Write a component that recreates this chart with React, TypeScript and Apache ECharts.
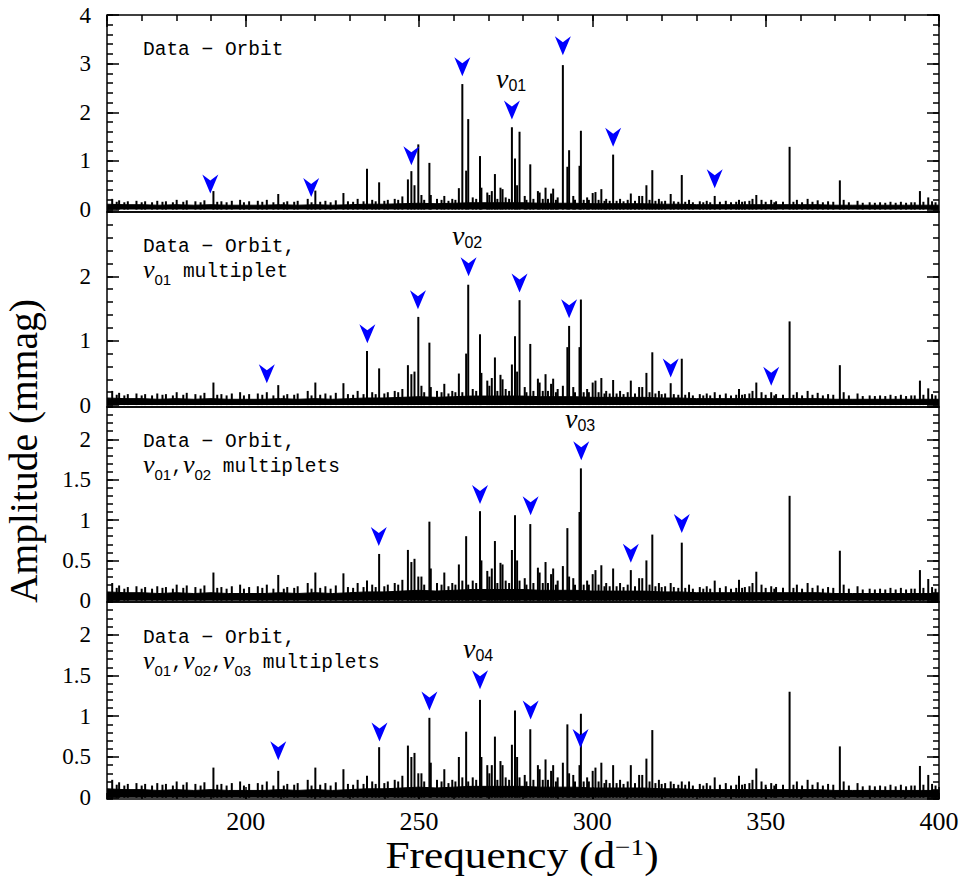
import React, { useEffect, useRef } from 'react';
import * as echarts from 'echarts';

// ---------------- data ----------------
// Main peaks: frequency (d^-1) and amplitude (mmag) in each of the four panels
const peakFreq = [
  190.7, 209.4, 220.1, 228.2, 235.0, 238.5, 245.2, 246.8, 247.8, 248.7,
  249.8, 253.0, 253.4, 257.3, 261.5, 262.5, 263.6, 264.2, 267.6, 268.0,
  269.7, 271.0, 271.9, 273.5, 274.1, 276.8, 277.7, 278.3, 279.0, 282.1,
  284.3, 286.5, 288.7, 291.5, 292.8, 293.3, 296.3, 296.7, 300.1, 300.9,
  302.6, 306.0, 311.1, 315.6, 317.3, 322.6, 325.8, 335.3, 342.3, 347.3,
  351.6, 356.9, 371.4, 394.5, 396.9,
];
const peakAmpPanel1 = [
  0.38, 0.32, 0.39, 0.34, 0.84, 0.56, 0.27, 0.62, 0.79, 0.50,
  1.34, 0.96, 0.30, 0.28, 0.44, 2.58, 0.80, 1.86, 1.10, 0.45,
  0.35, 0.38, 0.73, 0.45, 0.42, 1.69, 1.05, 0.50, 1.60, 0.93,
  0.38, 0.45, 0.43, 2.97, 0.88, 1.22, 0.90, 1.62, 0.34, 0.36,
  0.42, 1.13, 0.33, 0.50, 0.81, 0.32, 0.71, 0.28, 0.20, 0.30,
  0.20, 1.29, 0.60, 0.38, 0.25,
];
const peakAmpPanel2 = [
  0.35, 0.31, 0.35, 0.34, 0.84, 0.57, 0.25, 0.62, 0.48, 0.52,
  1.37, 0.97, 0.28, 0.33, 0.49, 0.20, 0.80, 1.87, 1.10, 0.50,
  0.38, 0.42, 0.74, 0.47, 0.40, 0.63, 1.07, 0.52, 1.63, 0.95,
  0.41, 0.48, 0.41, 0.30, 0.90, 1.23, 0.90, 1.64, 0.35, 0.38,
  0.42, 0.39, 0.38, 0.50, 0.82, 0.34, 0.72, 0.20, 0.25, 0.35,
  0.20, 1.30, 0.62, 0.38, 0.26,
];
const peakAmpPanel3 = [
  0.35, 0.32, 0.35, 0.34, 0.25, 0.58, 0.26, 0.63, 0.48, 0.52,
  0.30, 0.98, 0.40, 0.35, 0.45, 0.25, 0.80, 0.20, 1.11, 0.50,
  0.37, 0.40, 0.74, 0.47, 0.45, 0.63, 1.06, 0.50, 0.25, 0.95,
  0.41, 0.48, 0.40, 0.43, 0.90, 0.30, 1.10, 1.64, 0.33, 0.38,
  0.44, 0.40, 0.38, 0.50, 0.82, 0.22, 0.72, 0.25, 0.26, 0.36,
  0.18, 1.30, 0.62, 0.38, 0.27,
];
const peakAmpPanel4 = [
  0.37, 0.33, 0.37, 0.35, 0.27, 0.62, 0.27, 0.64, 0.50, 0.55,
  0.30, 0.98, 0.43, 0.35, 0.50, 0.25, 0.81, 0.20, 1.20, 0.50,
  0.40, 0.40, 0.75, 0.45, 0.40, 0.65, 1.07, 0.50, 0.25, 0.84,
  0.40, 0.47, 0.40, 0.43, 0.90, 0.30, 0.40, 1.03, 0.33, 0.37,
  0.43, 0.40, 0.40, 0.48, 0.83, 0.20, 0.20, 0.25, 0.27, 0.36,
  0.18, 1.30, 0.63, 0.39, 0.28,
];

// Small spikes sticking out of the noise (same in all panels)
const grassFreq = [
  161.5, 163.5, 166.0, 168.5, 171.0, 174.5, 177.0, 180.1, 183.0, 185.5,
  188.1, 193.0, 196.0, 198.4, 201.0, 203.5, 206.1, 212.0, 215.0, 217.9,
  223.0, 226.0, 232.3, 236.5, 241.0, 243.0, 250.7, 255.2, 259.6, 265.5,
  270.3, 275.0, 280.5, 284.8, 288.1, 290.0, 294.5, 298.5, 304.0, 308.0,
  313.5, 314.4, 319.2, 321.0, 327.9, 331.0, 333.0, 338.5, 344.0, 346.2,
  348.8, 353.0, 359.0, 362.1, 365.0, 368.0, 372.5, 376.5, 380.0, 383.0,
  386.0, 389.0, 392.0, 398.0,
];
const grassAmp = [
  0.22, 0.19, 0.17, 0.18, 0.17, 0.18, 0.17, 0.20, 0.19, 0.17,
  0.19, 0.17, 0.18, 0.20, 0.17, 0.18, 0.20, 0.17, 0.18, 0.22,
  0.18, 0.19, 0.22, 0.20, 0.20, 0.22, 0.30, 0.22, 0.22, 0.25,
  0.30, 0.25, 0.28, 0.35, 0.33, 0.25, 0.28, 0.25, 0.22, 0.22,
  0.28, 0.28, 0.22, 0.18, 0.20, 0.17, 0.18, 0.18, 0.17, 0.22,
  0.20, 0.17, 0.20, 0.22, 0.19, 0.17, 0.20, 0.18, 0.15, 0.15,
  0.16, 0.16, 0.15, 0.17,
];
// Finer, lower spikes of the noise band
const fineGrassFreq = [
  162.8, 165.0, 170.0, 173.0, 176.0, 179.0, 182.0, 187.0, 191.8, 194.5,
  199.5, 204.8, 208.0, 211.0, 214.0, 219.0, 221.5, 224.5, 229.5, 231.0,
  234.0, 237.5, 240.0, 244.0, 251.5, 256.5, 258.5, 260.5, 266.5, 272.6,
  276.0, 281.0, 283.0, 285.7, 287.2, 289.5, 295.0, 297.5, 299.0, 301.8,
  303.5, 305.0, 307.0, 309.0, 310.2, 312.3, 316.5, 318.2, 320.0, 323.5,
  324.8, 326.8, 329.0, 332.0, 334.0, 336.8, 340.0, 341.5, 343.2, 345.3,
  350.0, 352.5, 355.0, 358.0, 360.5, 363.5, 366.5, 369.5, 374.0, 378.0,
  381.5, 384.5, 387.5, 390.5, 393.0, 395.5, 399.0,
];
const fineGrassAmp = [
  0.16, 0.15, 0.15, 0.15, 0.16, 0.15, 0.16, 0.15, 0.16, 0.15,
  0.15, 0.16, 0.15, 0.15, 0.16, 0.15, 0.16, 0.15, 0.17, 0.16,
  0.17, 0.17, 0.18, 0.20, 0.20, 0.20, 0.18, 0.20, 0.22, 0.22,
  0.22, 0.20, 0.22, 0.22, 0.22, 0.20, 0.20, 0.20, 0.20, 0.20,
  0.18, 0.18, 0.18, 0.17, 0.20, 0.18, 0.20, 0.18, 0.17, 0.17,
  0.16, 0.16, 0.15, 0.15, 0.15, 0.16, 0.15, 0.16, 0.16, 0.18,
  0.16, 0.15, 0.16, 0.16, 0.15, 0.16, 0.15, 0.16, 0.15, 0.14,
  0.14, 0.14, 0.14, 0.14, 0.15, 0.16, 0.15,
];

// Noise floor envelope
const noiseFreq = [
  160, 165, 170, 175, 180, 185, 190, 195, 200, 205, 210, 215, 220, 225, 230,
  235, 240, 245, 250, 255, 260, 265, 270, 275, 280, 285, 290, 295, 300, 305,
  310, 315, 320, 325, 330, 335, 340, 345, 350, 355, 360, 365, 370, 375, 380,
  385, 390, 395, 400,
];
const noiseAmp = [
  0.11, 0.10, 0.10, 0.09, 0.10, 0.09, 0.10, 0.09, 0.09, 0.09, 0.10, 0.09, 0.10, 0.09, 0.10,
  0.11, 0.11, 0.12, 0.13, 0.12, 0.13, 0.14, 0.14, 0.14, 0.14, 0.13, 0.13, 0.13, 0.12, 0.12,
  0.12, 0.12, 0.11, 0.11, 0.10, 0.10, 0.10, 0.10, 0.10, 0.10, 0.10, 0.10, 0.09, 0.09, 0.09,
  0.09, 0.09, 0.09, 0.09,
];

// Blue arrow markers (frequency, amplitude of the arrow tip)
const arrowFreqPanel1 = [189.8, 218.9, 247.8, 262.5, 276.8, 291.5, 306.0, 335.3];
const arrowAmpPanel1 = [0.33, 0.26, 0.91, 2.74, 1.85, 3.17, 1.29, 0.44];
const arrowFreqPanel2 = [206.1, 235.1, 249.7, 264.3, 279.0, 293.3, 322.6, 351.6];
const arrowAmpPanel2 = [0.34, 0.96, 1.49, 2.0, 1.75, 1.35, 0.43, 0.3];
const arrowFreqPanel3 = [238.4, 267.6, 282.2, 296.8, 311.1, 325.8];
const arrowAmpPanel3 = [0.68, 1.2, 1.06, 1.74, 0.47, 0.84];
const arrowFreqPanel4 = [209.4, 238.6, 253.0, 267.6, 282.2, 296.6];
const arrowAmpPanel4 = [0.46, 0.69, 1.07, 1.33, 0.96, 0.61];

// Panel texts
const panelLine1 = ['Data − Orbit', 'Data − Orbit,', 'Data − Orbit,', 'Data − Orbit,'];
const panelLine2 = [
  '',
  '{n|ν}{s|01}{m| multiplet}',
  '{n|ν}{s|01}{m|,}{n|ν}{s|02}{m| multiplets}',
  '{n|ν}{s|01}{m|,}{n|ν}{s|02}{m|,}{n|ν}{s|03}{m| multiplets}',
];
const modeLabels = ['01', '02', '03', '04'];

// Axis ranges
const freqMin = 160;
const freqMax = 400;
const yMinPanels = [-0.05, -0.03, -0.015, -0.015];
const yMaxPanels = [4, 3, 2.4, 2.4];
const yMajorSplit = [4, 3, 5, 5];
const yMinorSplit = [20, 15, 24, 24];

// ---------------- styling / layout ----------------
const SERIF = '"Liberation Serif", "DejaVu Serif", serif';
const MONO = '"Liberation Mono", "DejaVu Sans Mono", monospace';
const SANS = '"Liberation Sans", "DejaVu Sans", sans-serif';
const gridBoxes = [
  { top: 15, height: 197 },
  { top: 212, height: 195 },
  { top: 407, height: 195 },
  { top: 602, height: 197 },
];
const line1Y = [49.7, 246.7, 441.7, 637.7];
const line2Y = [0, 271.7, 466.7, 662.7];
const modePos = [
  [496, 78.5],
  [452, 235.5],
  [565, 418.5],
  [463, 648.5],
];
const ARROW = 'path://M0,0L8,6L16,0L8,19Z';

const labelRich = {
  m: { fontFamily: MONO, fontSize: 19.5, lineHeight: 30, fill: '#000' },
  n: { fontFamily: SERIF, fontStyle: 'italic', fontSize: 26, lineHeight: 25, verticalAlign: 'top', fill: '#000' },
  s: { fontFamily: SANS, fontSize: 15, lineHeight: 14, verticalAlign: 'bottom', fill: '#000' },
};
const modeRich = {
  n: { fontFamily: SERIF, fontStyle: 'italic', fontSize: 28, lineHeight: 30, fill: '#000' },
  s: { fontFamily: SANS, fontSize: 16, lineHeight: 8, verticalAlign: 'bottom', fill: '#000' },
};

function textEl(x: number, y: number, style: any, extra: any = {}) {
  return {
    type: 'text',
    x,
    y,
    silent: true,
    ...extra,
    style: {
      fill: '#000',
      align: 'left',
      textAlign: 'left',
      verticalAlign: 'middle',
      textVerticalAlign: 'middle',
      ...style,
    },
  };
}

export default function App() {
  const ref = useRef<HTMLDivElement>(null);

  useEffect(() => {
    if (!ref.current) return;
    const chart = echarts.init(ref.current, null, { renderer: 'svg' });

    const panels = [
      { amps: peakAmpPanel1, af: arrowFreqPanel1, aa: arrowAmpPanel1 },
      { amps: peakAmpPanel2, af: arrowFreqPanel2, aa: arrowAmpPanel2 },
      { amps: peakAmpPanel3, af: arrowFreqPanel3, aa: arrowAmpPanel3 },
      { amps: peakAmpPanel4, af: arrowFreqPanel4, aa: arrowAmpPanel4 },
    ];

    const tick = (len: number) => ({
      show: true,
      inside: true,
      length: len,
      lineStyle: { color: '#000', width: 1.5 },
    });
    const xBase = {
      type: 'value',
      min: freqMin,
      max: freqMax,
      splitLine: { show: false },
      axisLine: { show: false, onZero: false },
    };

    const xAxis: any[] = [
      { ...xBase, gridIndex: 0, position: 'top', splitNumber: 5, axisTick: tick(12), axisLabel: { show: false } },
      { ...xBase, gridIndex: 1, show: false },
      { ...xBase, gridIndex: 2, show: false },
      {
        ...xBase,
        gridIndex: 3,
        position: 'bottom',
        splitNumber: 5,
        axisTick: tick(12),
        axisLabel: {
          show: true,
          showMinLabel: false,
          margin: 9,
          fontSize: 26,
          fontFamily: SERIF,
          color: '#000',
        },
      },
      { ...xBase, gridIndex: 0, position: 'top', interval: 10, axisTick: tick(6), axisLabel: { show: false } },
      { ...xBase, gridIndex: 3, position: 'bottom', interval: 10, axisTick: tick(6), axisLabel: { show: false } },
    ];

    const yAxis: any[] = [];
    for (let i = 0; i < 4; i++) {
      const yb = {
        type: 'value',
        gridIndex: i,
        min: yMinPanels[i],
        max: yMaxPanels[i],
        splitLine: { show: false },
        axisLine: { show: false, onZero: false },
      };
      yAxis.push({
        ...yb,
        position: 'left',
        splitNumber: yMajorSplit[i],
        axisTick: tick(12),
        axisLabel: {
          show: true,
          showMinLabel: false,
          showMaxLabel: i === 0,
          margin: 16,
          fontSize: 23,
          fontFamily: SERIF,
          color: '#000',
        },
      });
      yAxis.push({ ...yb, position: 'left', splitNumber: yMinorSplit[i], axisTick: tick(6), axisLabel: { show: false } });
      yAxis.push({ ...yb, position: 'right', splitNumber: yMajorSplit[i], axisTick: tick(12), axisLabel: { show: false } });
      yAxis.push({ ...yb, position: 'right', splitNumber: yMinorSplit[i], axisTick: tick(6), axisLabel: { show: false } });
    }

    const series: any[] = [];
    panels.forEach((p, i) => {
      series.push({
        type: 'line',
        xAxisIndex: i,
        yAxisIndex: 4 * i,
        data: noiseFreq.map((f, k) => [f, noiseAmp[k]]),
        symbol: 'none',
        showSymbol: false,
        lineStyle: { color: '#000', width: 1 },
        areaStyle: { color: '#000', opacity: 1 },
        silent: true,
        z: 2,
      });
      series.push({
        type: 'bar',
        xAxisIndex: i,
        yAxisIndex: 4 * i,
        data: [
          ...fineGrassFreq.map((f, k) => [f, fineGrassAmp[k]]),
          ...grassFreq.map((f, k) => [f, grassAmp[k]]),
          ...peakFreq.map((f, k) => [f, p.amps[k]]),
        ],
        barWidth: 2,
        itemStyle: { color: '#000' },
        silent: true,
        z: 3,
      });
      series.push({
        type: 'scatter',
        xAxisIndex: i,
        yAxisIndex: 4 * i,
        data: p.af.map((f, k) => [f, p.aa[k]]),
        symbol: ARROW,
        symbolSize: [16, 19],
        symbolOffset: [0, '-50%'],
        itemStyle: { color: '#0000ff', opacity: 1 },
        silent: true,
        z: 4,
      });
    });

    const graphic: any[] = [];
    for (let i = 0; i < 4; i++) {
      graphic.push(textEl(143, line1Y[i], { text: panelLine1[i], fontFamily: MONO, fontSize: 19.5 }));
      if (panelLine2[i]) {
        graphic.push(textEl(143, line2Y[i], { text: panelLine2[i], rich: labelRich }));
      }
      graphic.push(
        textEl(modePos[i][0], modePos[i][1], { text: `{n|ν}{s|${modeLabels[i]}}`, rich: modeRich })
      );
    }
    graphic.push(
      textEl(
        24,
        451,
        {
          text: 'Amplitude (mmag)',
          fontFamily: SERIF,
          fontSize: 39.5,
          align: 'center',
          textAlign: 'center',
        },
        { rotation: Math.PI / 2 }
      )
    );
    graphic.push(
      textEl(
        522,
        855,
        {
          text: '{a|Frequency (d}{s|−1}{a|)}',
          align: 'center',
          textAlign: 'center',
          rich: {
            a: { fontFamily: SERIF, fontSize: 38, lineHeight: 40, fill: '#000' },
            s: { fontFamily: SERIF, fontSize: 24, lineHeight: 24, verticalAlign: 'top', fill: '#000' },
          },
        },
        { scaleX: 1.14 }
      )
    );

    const option: any = {
      animation: false,
      backgroundColor: '#ffffff',
      grid: gridBoxes.map((g) => ({
        left: 107,
        right: 25,
        top: g.top,
        height: g.height,
        show: true,
        borderColor: '#000',
        borderWidth: 1.5,
        backgroundColor: 'transparent',
        containLabel: false,
        outerBoundsMode: 'none',
      })),
      xAxis,
      yAxis,
      series,
      graphic,
    };

    chart.setOption(option);
    return () => chart.dispose();
  }, []);

  return (
    <div
      ref={ref}
      style={{ position: 'absolute', left: 0, top: 0, width: 964, height: 884, background: '#fff' }}
    />
  );
}
